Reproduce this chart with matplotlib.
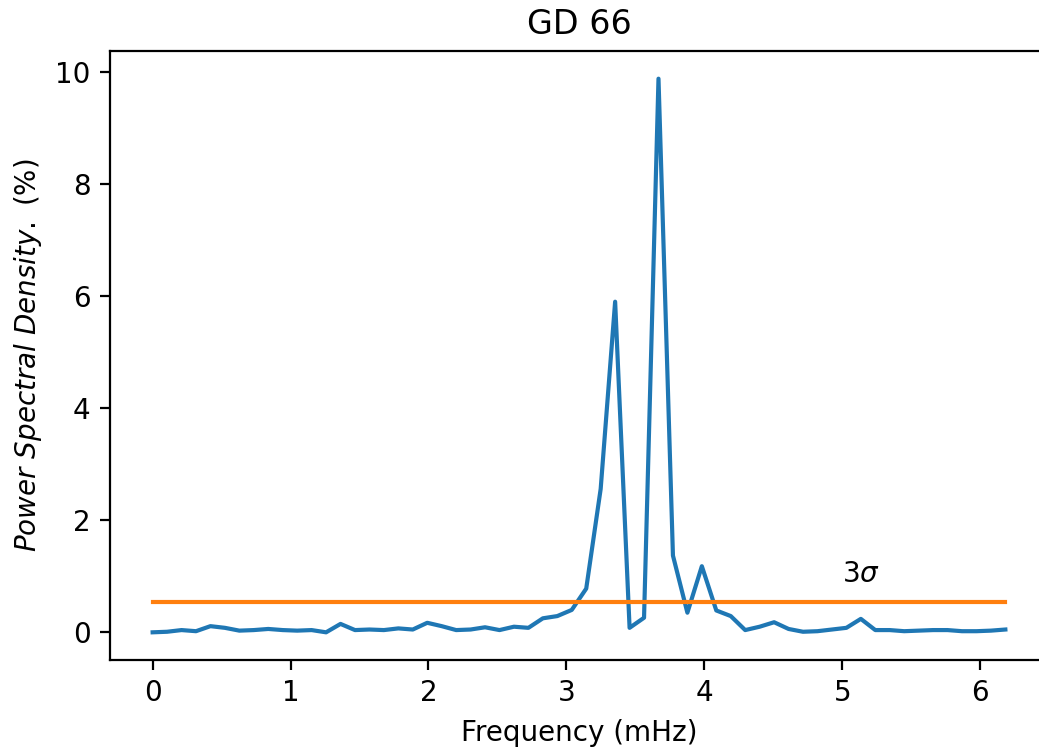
import numpy as np
import matplotlib
matplotlib.use("Agg")
import matplotlib.pyplot as plt

# Data
freq_step = 0.1048  # mHz spacing of the periodogram grid
psd = [0.00, 0.01, 0.04, 0.02, 0.11, 0.08, 0.03, 0.04, 0.06, 0.04,
       0.03, 0.04, 0.00, 0.15, 0.04, 0.05, 0.04, 0.07, 0.05, 0.17,
       0.11, 0.04, 0.05, 0.09, 0.04, 0.10, 0.08, 0.25, 0.29, 0.40,
       0.78, 2.56, 5.90, 0.08, 0.26, 9.88, 1.37, 0.35, 1.18, 0.39,
       0.29, 0.04, 0.10, 0.18, 0.06, 0.01, 0.02, 0.05, 0.08, 0.24,
       0.04, 0.04, 0.02, 0.03, 0.04, 0.04, 0.02, 0.02, 0.03, 0.05]
freq = np.arange(len(psd)) * freq_step
threshold = 0.54
title = "GD 66"
xlabel = "Frequency (mHz)"
ylabel = r"$\it{Power\ Spectral\ Density.}$ (%)"
sigma_label = r"$3\sigma$"
sigma_pos = (5.0, 0.9)

W, H, DPI = 1039, 751, 200
fig = plt.figure(figsize=(W / DPI, H / DPI), dpi=DPI)
left, bottom, top = 110 / W, (H - 660) / H, (H - 51) / H
right = 1048 / W
ax = fig.add_axes([left, bottom, right - left, top - bottom])

ax.plot(freq, psd, color="#1f77b4", lw=1.5)
ax.plot(freq, np.full(len(freq), threshold), color="#ff7f0e", lw=1.5)
ax.text(sigma_pos[0], sigma_pos[1], sigma_label, fontsize=10)

ax.set_title(title, fontsize=12)
ax.set_xlabel(xlabel, fontsize=10)
ax.set_ylabel(ylabel, fontsize=10)
ax.set_xticks([0, 1, 2, 3, 4, 5, 6])
ax.set_yticks([0, 2, 4, 6, 8, 10])

fig.savefig("out.png", dpi=DPI)
